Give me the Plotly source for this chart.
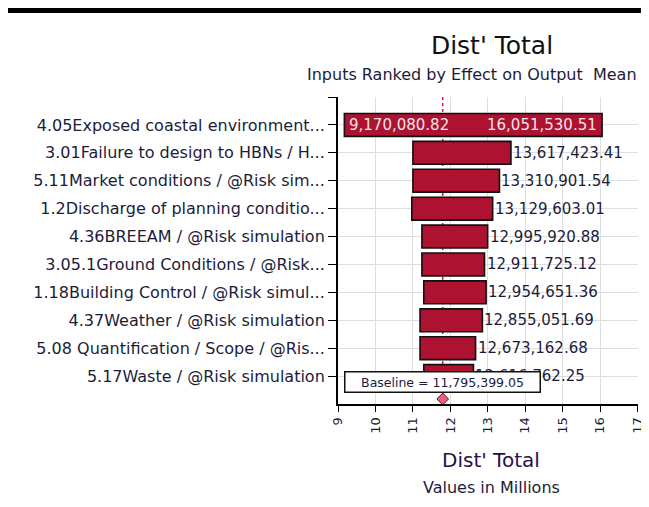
import plotly.graph_objects as go

labels = [
    "4.05Exposed coastal environment...",
    "3.01Failure to design to HBNs / H...",
    "5.11Market conditions / @Risk sim...",
    "1.2Discharge of planning conditio...",
    "4.36BREEAM / @Risk simulation",
    "3.05.1Ground Conditions / @Risk...",
    "1.18Building Control / @Risk simul...",
    "4.37Weather / @Risk simulation",
    "5.08 Quantification / Scope / @Ris...",
    "5.17Waste / @Risk simulation",
]
low_vals = [9170080.82, 11000000, 11000000, 10970000, 11240000,
            11240000, 11290000, 11190000, 11190000, 11290000]
high_vals = [16051530.51, 13617423.41, 13310901.54, 13129603.01, 12995920.88,
             12911725.12, 12954651.36, 12855051.69, 12673162.68, 12616762.25]
baseline = 11795399.05
x_ticks = [9, 10, 11, 12, 13, 14, 15, 16, 17]

SCALE = 1e6
pos = list(range(len(labels)))
low_m = [v / SCALE for v in low_vals]
high_m = [v / SCALE for v in high_vals]
base_m = baseline / SCALE

# page has an 8px body margin; lay out in window pixels and convert
OFF = 8
W, H = 649 - OFF, 507 - 2 * OFF
ML, MT = 330, 89
PW, PH = 300, 307
MR = W - ML - PW
MB = H - MT - PH


def px(xw):
    return (xw - OFF - ML) / PW


def py(yw):
    return (MT + PH - (yw - OFF)) / PH


txt = "#1c1c3a"
FONT = "DejaVu Sans"

fig = go.Figure()
fig.add_trace(go.Bar(
    orientation="h",
    y=pos,
    base=low_m,
    x=[h - l for h, l in zip(high_m, low_m)],
    width=0.82,
    marker=dict(color="#ad1231", line=dict(color="#111111", width=1.6)),
    hoverinfo="skip",
))
fig.add_trace(go.Scatter(
    x=[base_m], y=[9.82], mode="markers", cliponaxis=False,
    marker=dict(symbol="diamond", size=9, color="#e8607c",
                line=dict(color="#5a0a18", width=1)),
    hoverinfo="skip",
))

fmt = lambda v: f"{v:,.2f}"
annotations = []
for i, (l, h) in enumerate(zip(low_vals, high_vals)):
    if i == 0:
        annotations.append(dict(x=l / SCALE, y=i, text=fmt(l), xanchor="left", xshift=3,
                                showarrow=False, font=dict(family=FONT, size=15, color="#f4e4ea")))
        annotations.append(dict(x=h / SCALE, y=i, text=fmt(h), xanchor="right", xshift=-3,
                                showarrow=False, font=dict(family=FONT, size=15, color="#f4e4ea")))
    else:
        annotations.append(dict(x=h / SCALE, y=i, text=fmt(h), xanchor="left", xshift=0,
                                showarrow=False, font=dict(family=FONT, size=15, color=txt)))
annotations.append(dict(x=base_m, y=9.2, text="Baseline = " + fmt(baseline),
                        showarrow=False, bgcolor="white", bordercolor="#111111",
                        borderwidth=1.5, width=192, height=17, borderpad=1,
                        font=dict(family=FONT, size=12.5, color=txt)))
# titles
annotations.append(dict(xref="paper", yref="paper", x=px(472), y=py(75),
                        xanchor="center", yanchor="middle",
                        text="Inputs Ranked by Effect on Output  Mean", showarrow=False,
                        font=dict(family=FONT, size=16, color=txt)))
annotations.append(dict(xref="paper", yref="paper", x=px(491), y=py(460),
                        xanchor="center", yanchor="middle",
                        text="Dist' Total", showarrow=False,
                        font=dict(family=FONT, size=20, color="#2a0f45")))
annotations.append(dict(xref="paper", yref="paper", x=px(491), y=py(487),
                        xanchor="center", yanchor="middle",
                        text="Values in Millions", showarrow=False,
                        font=dict(family=FONT, size=16, color=txt)))

shapes = [
    dict(type="line", xref="x", yref="y", x0=base_m, x1=base_m, y0=-1, y1=9.75,
         line=dict(color="#e3123c", width=1.5, dash="dot"), layer="between"),
    dict(type="line", xref="paper", yref="paper", x0=px(0), x1=px(649),
         y0=py(10.5), y1=py(10.5),
         line=dict(color="black", width=5)),
]

fig.update_layout(
    width=W, height=H,
    margin=dict(l=ML, r=MR, t=MT, b=MB),
    paper_bgcolor="white", plot_bgcolor="white",
    showlegend=False,
    title=dict(text="Dist' Total", xref="container", yref="container",
               x=(492 - OFF) / W, y=1 - (45 - OFF) / H, xanchor="center", yanchor="middle",
               font=dict(family=FONT, size=25, color="#111111")),
    annotations=annotations,
    shapes=shapes,
    font=dict(family=FONT, color=txt),
)
fig.update_xaxes(
    range=[9, 17.01], tickvals=x_ticks, ticktext=[str(t) for t in x_ticks],
    tickangle=-90, ticks="outside", ticklen=6, tickcolor="black",
    ticklabeloverflow="allow",
    showline=True, linecolor="black", linewidth=2, automargin=False,
    showgrid=True, gridcolor="#dedede", gridwidth=1, zeroline=False,
    tickfont=dict(family=FONT, size=13, color=txt),
)
fig.update_yaxes(
    range=[10, -1], tickvals=[-1] + pos, ticktext=[""] + labels,
    ticks="outside", ticklen=8, tickcolor="black", automargin=False,
    showline=True, linecolor="black", linewidth=2,
    showgrid=True, gridcolor="#dedede", gridwidth=1, zeroline=False,
    tickfont=dict(family=FONT, size=16, color=txt),
)
fig.write_html("out.html")
